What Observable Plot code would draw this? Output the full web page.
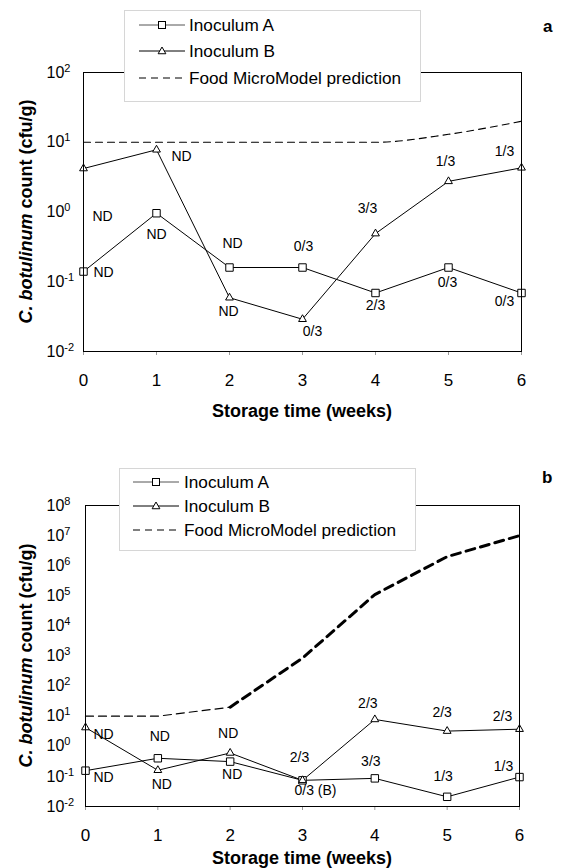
<!DOCTYPE html>
<html><head><meta charset="utf-8">
<script src="https://cdn.jsdelivr.net/npm/d3@7"></script>
<script src="https://cdn.jsdelivr.net/npm/@observablehq/plot@0.6"></script>
<style>
body{margin:0;background:#fff;font-family:"Liberation Sans",Arial,sans-serif;color:#000;}
#wrap{position:relative;width:573px;height:868px;overflow:hidden;background:#fff;}
.panel{position:absolute;left:0;width:573px;}
.legend{position:absolute;background:#fff;border:1px solid #d6d6d6;box-sizing:border-box;}
.lg-row{position:absolute;left:0;height:22px;width:100%;}
.lg-row svg{position:absolute;left:0;top:0;}
.lg-row span{position:absolute;top:1px;font-size:17.2px;line-height:20px;white-space:nowrap;}
.tag{position:absolute;font-weight:bold;font-size:17px;}
</style></head><body><div id="wrap"></div>
<script>
// ---------- data ----------
const weeks = [0, 1, 2, 3, 4, 5, 6];
const seriesNames = ["Inoculum A", "Inoculum B", "Food MicroModel prediction"];

// panel a
const aInocA = [0.14, 0.96, 0.16, 0.16, 0.069, 0.16, 0.069];
const aInocB = [4.2, 7.8, 0.059, 0.029, 0.49, 2.75, 4.3];
const aModel = [10, 10, 10, 10, 10, 13, 20];
const aTicks = [0.01, 0.1, 1, 10, 100];
const aNoteWeek = [0, 0, 1, 1, 2, 2, 3, 3, 4, 4, 5, 5, 6, 6];
const aNoteSeries = ["B", "A", "B", "A", "A", "B", "A", "B", "B", "A", "B", "A", "B", "A"];
const aNoteText = ["ND", "ND", "ND", "ND", "ND", "ND", "0/3", "0/3", "3/3", "2/3", "1/3", "0/3", "1/3", "0/3"];

// panel b
const bInocA = [0.155, 0.4, 0.31, 0.074, 0.086, 0.021, 0.095];
const bInocB = [4.2, 0.16, 0.6, 0.074, 7.8, 3.2, 3.7];
const bModel = [10, 10, 20, 850, 110000, 2000000, 10000000];
const bTicks = [0.01, 0.1, 1, 10, 100, 1e3, 1e4, 1e5, 1e6, 1e7, 1e8];
const bNoteWeek = [0, 0, 1, 1, 2, 2, 3, 3, 4, 4, 5, 5, 6, 6];
const bNoteSeries = ["B", "A", "A", "B", "B", "A", "B", "A", "B", "A", "B", "A", "B", "A"];
const bNoteText = ["ND", "ND", "ND", "ND", "ND", "ND", "2/3", "0/3 (B)", "2/3", "3/3", "2/3", "1/3", "2/3", "1/3"];

const xTitle = "Storage time (weeks)";
const yTitleItalic = "C. botulinum";
const yTitleRest = " count (cfu/g)";

// ---------- layout (pixel offsets of annotation labels from their point) ----------
const aNoteOffsets = [[19,48],[20,1],[25,7],[0,21],[3,-24],[-1,14],[1,-21],[10,12],[-8,-25],[0,13],[-3,-20],[-1,15],[-17,-16],[-17,9]];
const bNoteOffsets = [[18,7],[18,7],[2,-22],[4,14],[-2,-19],[2,13],[-3,-23],[13,10],[-7,-16],[-4,-17],[-5,-19],[-4,-20],[-17,-13],[-16,-11]];

const NS = "http://www.w3.org/2000/svg";
const FONT = "Liberation Sans, Arial, sans-serif";

function buildPanel(cfg) {
  const rows = weeks.map((w, i) => ({week: w, A: cfg.inocA[i], B: cfg.inocB[i], M: cfg.model[i]}));
  const notes = cfg.noteWeek.map((w, i) => {
    const r = rows[weeks.indexOf(w)];
    return {week: w, value: r[cfg.noteSeries[i]], text: cfg.noteText[i]};
  });
  const modelMarks = cfg.thickFrom == null
    ? [Plot.line(rows, {x: "week", y: "M", stroke: "black", strokeWidth: 1.1, strokeDasharray: "7,5", curve: "monotone-x"})]
    : [
        Plot.line(rows.filter(r => r.week <= cfg.thickFrom), {x: "week", y: "M", stroke: "black", strokeWidth: 1.2, strokeDasharray: "8,5"}),
        Plot.line(rows.filter(r => r.week >= cfg.thickFrom), {x: "week", y: "M", stroke: "black", strokeWidth: 3, strokeDasharray: "9,6"})
      ];
  const plot = Plot.plot({
    width: 573,
    height: cfg.height,
    marginTop: cfg.mt, marginBottom: cfg.mb, marginLeft: cfg.ml, marginRight: cfg.mr,
    style: {fontFamily: FONT, fontSize: "16px", color: "black", background: "white", overflow: "visible"},
    x: {domain: [0, 6]},
    y: {type: "log", domain: [cfg.ticks[0], cfg.ticks[cfg.ticks.length - 1]]},
    marks: [
      Plot.axisX({ticks: weeks, tickSize: 4, tickPadding: 18, stroke: "#9a9a9a", fill: "black", fontSize: 17, label: null, tickFormat: d => String(d)}),
      Plot.axisY({ticks: cfg.ticks, tickSize: 0, tickPadding: 0, textAnchor: "start", dx: -(cfg.ml - 46), fontSize: 16, label: null,
                  tickFormat: d => "10^" + Math.round(Math.log10(d))}),
      ...modelMarks,
      Plot.line(rows, {x: "week", y: "A", stroke: "black", strokeWidth: 1}),
      Plot.line(rows, {x: "week", y: "B", stroke: "black", strokeWidth: 1}),
      Plot.dot(rows, {x: "week", y: "A", symbol: "square", r: 4.2, stroke: "black", fill: "white", strokeWidth: 1}),
      Plot.dot(rows, {x: "week", y: "B", symbol: "triangle", r: 2.9, stroke: "black", fill: "white", strokeWidth: 1}),
      ...notes.map((n, i) => Plot.text([n], {x: "week", y: "value", text: "text", fontSize: 14, fill: "black",
                                              dx: cfg.offsets[i][0], dy: cfg.offsets[i][1]})),
      Plot.frame({stroke: "black", strokeWidth: 1})
    ]
  });

  // superscript exponents on y tick labels
  plot.querySelectorAll('g[aria-label="y-axis tick label"] text').forEach(t => {
    const [base, exp] = t.textContent.split("^");
    t.textContent = "";
    const a = document.createElementNS(NS, "tspan"); a.textContent = base; t.appendChild(a);
    const b = document.createElementNS(NS, "tspan"); b.textContent = exp;
    b.setAttribute("dy", "-6"); b.setAttribute("font-size", "11"); t.appendChild(b);
  });

  const xr = plot.scale("x").range, yr = plot.scale("y").range;
  const sel = d3.select(plot);
  // x title
  sel.append("text")
    .attr("x", (xr[0] + xr[1]) / 2).attr("y", Math.max(yr[0], yr[1]) + cfg.titleOff)
    .attr("text-anchor", "middle").attr("font-weight", "bold").attr("font-size", 18)
    .attr("font-family", FONT).attr("fill", "black").text(xTitle);
  // y title
  const yc = (yr[0] + yr[1]) / 2;
  const yt = sel.append("text")
    .attr("transform", `translate(32,${yc}) rotate(-90)`)
    .attr("text-anchor", "middle").attr("font-weight", "bold").attr("font-size", 18)
    .attr("font-family", FONT).attr("fill", "black");
  yt.append("tspan").attr("font-style", "italic").text(yTitleItalic);
  yt.append("tspan").text(yTitleRest);
  return plot;
}

function legendSample(kind) {
  const s = d3.create("svg").attr("width", 52).attr("height", 22);
  if (kind === 2) {
    s.append("line").attr("x1", 0).attr("x2", 46).attr("y1", 11).attr("y2", 11)
      .attr("stroke", "black").attr("stroke-width", 1.1).attr("stroke-dasharray", "7,5");
  } else {
    s.append("line").attr("x1", 0).attr("x2", 46).attr("y1", 11).attr("y2", 11)
      .attr("stroke", kind === 0 ? "#555" : "black").attr("stroke-width", 1);
    if (kind === 0) s.append("rect").attr("x", 19.5).attr("y", 7.5).attr("width", 7).attr("height", 7)
      .attr("fill", "white").attr("stroke", "black");
    else s.append("path").attr("d", d3.symbol(d3.symbolTriangle, 26)()).attr("transform", "translate(23,11.5)")
      .attr("fill", "white").attr("stroke", "black");
  }
  return s.node();
}

function addLegend(wrap, box) {
  const lg = document.createElement("div");
  lg.className = "legend";
  Object.assign(lg.style, {left: box.left + "px", top: box.top + "px", width: box.w + "px", height: box.h + "px"});
  seriesNames.forEach((name, i) => {
    const row = document.createElement("div");
    row.className = "lg-row";
    row.style.top = (box.rows[i] - box.top - 11) + "px";
    const smp = legendSample(i);
    smp.style.left = box.sx + "px";
    row.appendChild(smp);
    const sp = document.createElement("span");
    sp.textContent = name; sp.style.left = box.tx + "px";
    row.appendChild(sp);
    lg.appendChild(row);
  });
  wrap.appendChild(lg);
}

const wrap = document.getElementById("wrap");
const pa = document.createElement("div"); pa.className = "panel"; pa.style.top = "0px";
pa.appendChild(buildPanel({inocA: aInocA, inocB: aInocB, model: aModel, ticks: aTicks,
  noteWeek: aNoteWeek, noteSeries: aNoteSeries, noteText: aNoteText, offsets: aNoteOffsets,
  height: 434, mt: 72, mb: 83, ml: 83, mr: 52, thickFrom: null, titleOff: 66}));
wrap.appendChild(pa);

const pb = document.createElement("div"); pb.className = "panel"; pb.style.top = "434px";
pb.appendChild(buildPanel({inocA: bInocA, inocB: bInocB, model: bModel, ticks: bTicks,
  noteWeek: bNoteWeek, noteSeries: bNoteSeries, noteText: bNoteText, offsets: bNoteOffsets,
  height: 434, mt: 71, mb: 62, ml: 85, mr: 54, thickFrom: 2, titleOff: 58}));
wrap.appendChild(pb);

addLegend(wrap, {left: 124, top: 10, w: 297, h: 92, rows: [24, 50, 77], sx: 14, tx: 64});
addLegend(wrap, {left: 119, top: 468, w: 297, h: 83, rows: [481, 505, 529], sx: 13, tx: 64});

const ta = document.createElement("div"); ta.className = "tag"; ta.textContent = "a";
Object.assign(ta.style, {left: "543px", top: "17px"}); wrap.appendChild(ta);
const tb = document.createElement("div"); tb.className = "tag"; tb.textContent = "b";
Object.assign(tb.style, {left: "542px", top: "468px"}); wrap.appendChild(tb);
</script></body></html>
